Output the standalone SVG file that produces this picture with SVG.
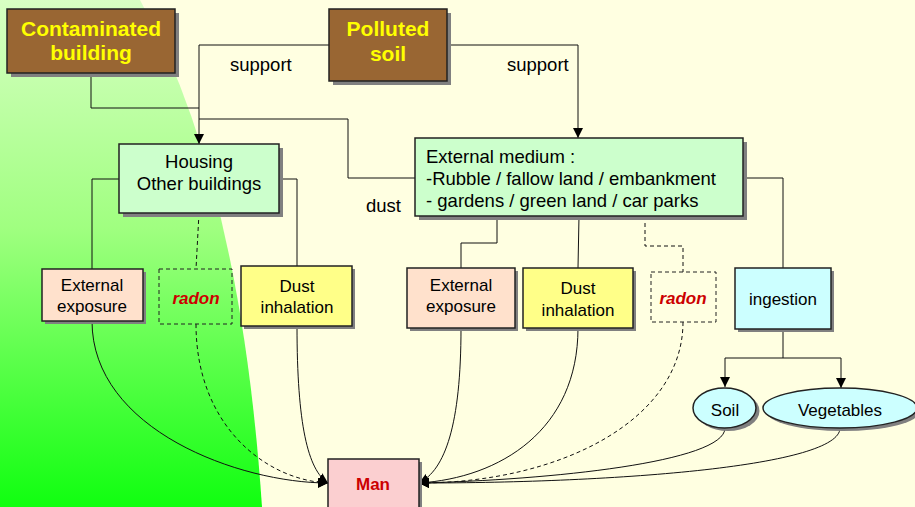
<svg xmlns="http://www.w3.org/2000/svg" width="915" height="507" viewBox="0 0 915 507">
<defs>
<linearGradient id="g" x1="0" y1="0" x2="0" y2="1">
<stop offset="0" stop-color="#D8FFC4"/>
<stop offset="0.45" stop-color="#A0FF80"/>
<stop offset="1" stop-color="#10FF10"/>
</linearGradient>
<marker id="ah" viewBox="0 0 10 10" refX="10" refY="5" markerWidth="10" markerHeight="10" markerUnits="userSpaceOnUse" orient="auto">
<path d="M0,0 L10,5 L0,10 Z" fill="#000"/>
</marker>
</defs>
<style>
text{font-family:"Liberation Sans",Arial,sans-serif;fill:#000;text-anchor:middle}
.big{font-size:21px;font-weight:bold;fill:#FFFF00}
.t18{font-size:18.5px}
.t17{font-size:17px}
.red{font-size:17px;font-weight:bold;fill:#CC0000}
.box{stroke:#222;stroke-width:1.5}
.sh{fill:#808080}
.dash{fill:none;stroke:#222;stroke-width:1;stroke-dasharray:4,3}
.c{fill:none;stroke:#111;stroke-width:1}
.cd{fill:none;stroke:#111;stroke-width:1;stroke-dasharray:4,3}
.lbl{text-anchor:start;font-size:18.5px}
</style>
<rect width="915" height="507" fill="#FFFFE1"/>
<path d="M0,0 L140,0 Q240,180 262,507 L0,507 Z" fill="url(#g)"/>

<g id="connectors">
<path class="c" d="M91,73 V108 H199"/>
<path class="c" d="M329,45 H199 V144" marker-end="url(#ah)"/>
<path class="c" d="M199,119 H348 V178 H415"/>
<path class="c" d="M447,45 H578 V138" marker-end="url(#ah)"/>
<path class="c" d="M119,179 H92 V269"/>
<path class="cd" d="M199,213 L196,269"/>
<path class="c" d="M279,179 H297 V266"/>
<path class="c" d="M497,216 V243 H461 V268"/>
<path class="c" d="M579,216 L578,268"/>
<path class="cd" d="M645,216 V246 H683 V272"/>
<path class="c" d="M743,178 H783 V268"/>
<path class="c" d="M783,329 V358"/>
<path class="c" d="M725,358 H841"/>
<path class="c" d="M725,358 V387" marker-end="url(#ah)"/>
<path class="c" d="M841,358 V388" marker-end="url(#ah)"/>
<path class="c" d="M92,321 C92,430 240,483 328,483" marker-end="url(#ah)"/>
<path class="cd" d="M196,324 C196,425 265,480 328,483" marker-end="url(#ah)"/>
<path class="c" d="M297,326 C297,425 308,470 328,483" marker-end="url(#ah)"/>
<path class="c" d="M461,328 C461,425 445,470 419,483" marker-end="url(#ah)"/>
<path class="c" d="M578,328 C578,430 500,478 419,483" marker-end="url(#ah)"/>
<path class="cd" d="M683,322 C683,420 560,483 419,483" marker-end="url(#ah)"/>
<path class="c" d="M725,428 C725,462 550,480 419,483" marker-end="url(#ah)"/>
<path class="c" d="M840,428 C840,466 620,483 419,483" marker-end="url(#ah)"/>
<text class="lbl" x="230" y="71">support</text>
<text class="lbl" x="507" y="71">support</text>
<text class="lbl" x="366" y="212">dust</text>
</g>

<g id="contaminated-building">
<rect class="sh" x="11" y="13" width="168" height="64"/>
<rect class="box" x="7" y="9" width="168" height="64" fill="#996633"/>
<text class="big" x="91" y="36">Contaminated</text>
<text class="big" x="91" y="60">building</text>
</g>

<g id="polluted-soil">
<rect class="sh" x="333" y="13" width="118" height="72"/>
<rect class="box" x="329" y="9" width="118" height="72" fill="#996633"/>
<text class="big" x="388" y="36">Polluted</text>
<text class="big" x="388" y="61">soil</text>
</g>

<g id="housing">
<rect class="sh" x="123" y="148" width="160" height="69"/>
<rect class="box" x="119" y="144" width="160" height="69" fill="#CCFFCC"/>
<text class="t18" x="199" y="168">Housing</text>
<text class="t18" x="199" y="190">Other buildings</text>
</g>

<g id="external-medium">
<rect class="sh" x="419" y="142" width="328" height="78"/>
<rect class="box" x="415" y="138" width="328" height="78" fill="#CCFFCC"/>
<text class="t18" x="426" y="163" style="text-anchor:start">External medium :</text>
<text class="t18" x="426" y="185" style="text-anchor:start">-Rubble / fallow land / embankment</text>
<text class="t18" x="426" y="207" style="text-anchor:start">- gardens / green land / car parks</text>
</g>

<g id="external-exposure-1">
<rect class="sh" x="45" y="272" width="101" height="52"/>
<rect class="box" x="42" y="269" width="101" height="52" fill="#FFE1CC"/>
<text class="t17" x="92" y="291">External</text>
<text class="t17" x="92" y="312">exposure</text>
</g>

<g id="radon-1">
<rect class="dash" x="159" y="269" width="73" height="55"/>
<text class="red" x="196" y="304" font-style="italic">radon</text>
</g>

<g id="dust-inhalation-1">
<rect class="sh" x="244" y="269" width="111" height="60"/>
<rect class="box" x="241" y="266" width="111" height="60" fill="#FFFF88"/>
<text class="t17" x="297" y="292">Dust</text>
<text class="t17" x="297" y="313">inhalation</text>
</g>

<g id="external-exposure-2">
<rect class="sh" x="410" y="271" width="108" height="60"/>
<rect class="box" x="407" y="268" width="108" height="60" fill="#FFE1CC"/>
<text class="t17" x="461" y="291">External</text>
<text class="t17" x="461" y="312">exposure</text>
</g>

<g id="dust-inhalation-2">
<rect class="sh" x="526" y="271" width="110" height="60"/>
<rect class="box" x="523" y="268" width="110" height="60" fill="#FFFF88"/>
<text class="t17" x="578" y="294">Dust</text>
<text class="t17" x="578" y="316">inhalation</text>
</g>

<g id="radon-2">
<rect class="dash" x="651" y="272" width="65" height="50"/>
<text class="red" x="683" y="304" font-style="italic">radon</text>
</g>

<g id="ingestion">
<rect class="sh" x="738" y="271" width="96" height="61"/>
<rect class="box" x="735" y="268" width="96" height="61" fill="#CCFFFF"/>
<text class="t17" x="783" y="305">ingestion</text>
</g>

<g id="soil">
<ellipse class="sh" cx="728" cy="411" rx="31.5" ry="20"/>
<ellipse class="box" cx="724.5" cy="408" rx="31.5" ry="20" fill="#CCFFFF"/>
<text class="t17" x="725" y="416">Soil</text>
</g>

<g id="vegetables">
<ellipse class="sh" cx="843" cy="411" rx="77" ry="20"/>
<ellipse class="box" cx="840" cy="408" rx="77" ry="20" fill="#CCFFFF"/>
<text class="t17" x="840" y="416">Vegetables</text>
</g>

<g id="man">
<rect class="sh" x="331" y="462" width="91" height="50"/>
<rect class="box" x="328" y="459" width="91" height="50" fill="#FBCFD0"/>
<text class="red" x="373" y="490">Man</text>
</g>
</svg>
